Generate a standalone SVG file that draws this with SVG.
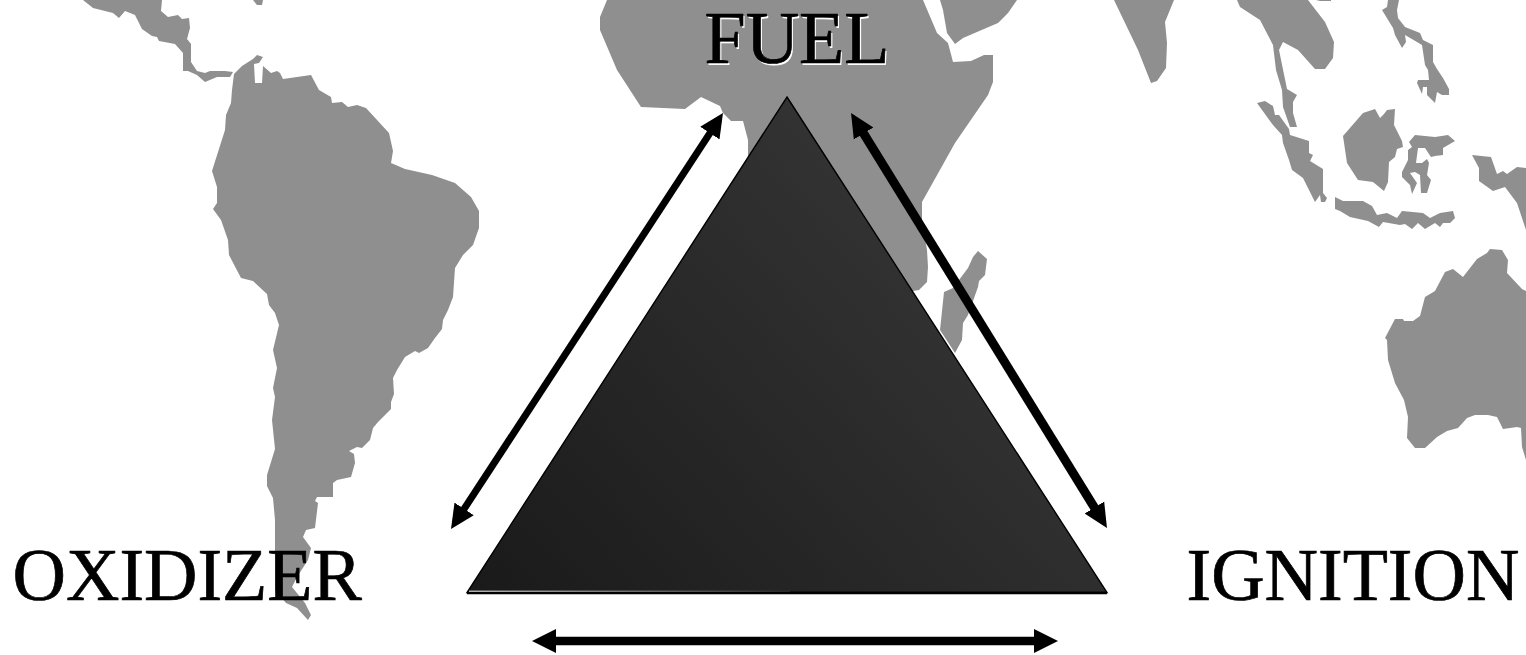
<svg xmlns="http://www.w3.org/2000/svg" width="1526" height="655" viewBox="0 0 1526 655">
<style>
.land{fill:#8f8f8f;stroke:none}
.lbl{font-family:"Liberation Serif","Times New Roman",serif;font-size:74px;fill:#000;stroke:#000;stroke-width:.7px}
.conn{fill:none;stroke:#000}
</style>
<defs>
<linearGradient id="tri" gradientUnits="userSpaceOnUse" x1="500" y1="620" x2="960" y2="200">
<stop offset="0" stop-color="#1a1a1a"/><stop offset="1" stop-color="#353535"/>
</linearGradient>
<linearGradient id="edge" gradientUnits="userSpaceOnUse" x1="467" y1="0" x2="790" y2="0">
<stop offset="0" stop-color="#fff"/><stop offset="1" stop-color="#333"/>
</linearGradient>
<marker id="head" markerUnits="userSpaceOnUse" markerWidth="24" markerHeight="24" refX="1" refY="11.5" orient="auto-start-reverse" viewBox="0 0 24 23"><path d="M0,0L24,11.5L0,23Z" fill="#000"/></marker>
<marker id="headH" markerUnits="userSpaceOnUse" markerWidth="24" markerHeight="25" refX="1" refY="12" orient="auto-start-reverse" viewBox="0 0 24 24"><path d="M0,0L24,12L0,24Z" fill="#000"/></marker>
</defs>
<rect width="1526" height="655" fill="#fff"/>
<g id="map">
<path class="land" d="M83,0L93,8L113,13L119,18L125,11L135,15L142,29L152,36L157,37L159,41L175,44L183,53L183,71L188,71L197,75L205,82L217,77L230,77L233,72L225,71L210,71L205,73L197,71L191,62L191,44L187,39L190,28L189,18L182,19L178,15L168,17L161,11L162,0Z"/>
<path class="land" d="M253,0L257,5L262,5L263,0Z"/>
<path class="land" d="M234,74L232,90L231,103L226,115L225,130L212,171L217,187L217,203L213,209L221,220L228,240L229,255L241,278L253,281L267,294L269,305L275,313L279,325L273,350L277,368L273,388L275,397L272,420L275,449L267,475L267,486L273,498L275,520L275,590L286,603L297,608L308,620L311,615L305,603L292,587L297,577L308,560L311,548L303,537L306,530L315,528L318,503L315,501L317,497L333,497L333,483L337,480L351,477L355,463L354,454L349,451L357,447L362,448L370,440L373,428L378,422L391,409L391,402L394,394L393,378L397,370L405,357L415,351L419,353L428,348L435,338L442,329L443,320L448,310L453,297L455,268L463,255L473,245L479,228L479,211L471,197L455,183L432,175L405,169L391,163L393,151L389,133L366,108L357,105L348,107L342,102L332,103L331,97L319,90L311,75L283,79L280,73L277,71L271,73L263,66L262,83L255,83L254,64L259,63L263,57L257,55L253,59L242,66Z"/>
<path class="land" d="M607,0L600,17L600,30L617,70L641,107L685,109L701,97L720,106L723,113L731,121L743,121L748,140L748,157L760,300L913,291L919,290L927,282L928,267L927,250L922,220L922,202L955,143L988,95L993,82L993,55L984,55L971,61L953,62L948,43L937,33L923,0Z"/>
<path class="land" d="M940,0L943,10L947,33L955,44L963,38L998,23L1008,13L1017,0Z"/>
<path class="land" d="M1114,0L1138,50L1151,83L1157,81L1166,68L1167,43L1165,22L1174,0Z"/>
<path class="land" d="M978,251L987,259L985,275L979,281L978,287L968,315L963,323L962,340L955,353L940,330L944,292L953,288L968,268L973,257Z"/>
<path class="land" d="M1237,0L1240,7L1260,20L1273,45L1276,70L1282,90L1283,107L1290,127L1297,127L1293,113L1293,102L1297,95L1287,89L1279,50L1283,42L1298,50L1315,69L1325,69L1333,58L1334,42L1325,22L1308,0Z"/>
<path class="land" d="M1316,0L1320,1L1331,1L1331,0Z"/>
<path class="land" d="M1388,0L1387,7L1382,10L1393,28L1395,35L1402,48L1406,42L1405,35L1417,42L1422,45L1425,65L1428,70L1429,80L1418,80L1417,83L1422,94L1423,87L1427,87L1427,95L1435,103L1437,92L1442,95L1449,95L1449,89L1443,78L1437,69L1433,62L1433,45L1423,40L1420,33L1405,27L1398,18L1397,10L1399,0Z"/>
<path class="land" d="M1257,103L1265,101L1273,106L1275,115L1279,115L1289,129L1290,135L1309,141L1309,153L1313,155L1310,161L1323,169L1323,193L1327,198L1325,202L1321,202L1320,195L1315,202L1308,188L1303,178L1292,170L1289,160L1283,143L1282,135L1273,125Z"/>
<path class="land" d="M1375,109L1380,118L1384,114L1387,110L1395,109L1394,125L1402,141L1403,147L1397,149L1395,157L1389,162L1388,182L1384,191L1373,182L1358,180L1347,163L1343,136L1363,113Z"/>
<path class="land" d="M1415,135L1435,137L1448,135L1455,141L1443,148L1443,155L1435,156L1431,157L1425,148L1418,148L1416,163L1422,163L1427,159L1429,163L1427,175L1431,180L1427,193L1421,193L1420,175L1415,172L1410,173L1417,183L1412,194L1410,185L1402,177L1402,172L1408,160L1408,150L1412,147L1409,142Z"/>
<path class="land" d="M1335,197L1343,201L1363,201L1372,206L1377,215L1387,213L1397,218L1402,211L1423,213L1430,218L1440,213L1453,211L1455,218L1450,223L1443,223L1440,227L1435,223L1425,229L1418,223L1412,229L1405,224L1400,225L1383,222L1379,227L1368,221L1350,217L1340,211L1335,209Z"/>
<path class="land" d="M1472,155L1491,157L1497,174L1503,171L1507,174L1517,167L1526,168L1526,230L1525,227L1517,203L1505,187L1493,191L1479,181L1479,168Z"/>
<path class="land" d="M1385,338L1395,319L1403,319L1404,321L1413,321L1420,316L1425,297L1435,291L1445,272L1453,269L1463,277L1477,259L1487,253L1490,249L1502,250L1508,260L1507,273L1522,289L1526,291L1526,460L1522,447L1521,428L1517,427L1503,429L1497,417L1488,415L1475,415L1467,418L1458,428L1447,431L1437,437L1425,448L1415,448L1407,438L1408,417L1404,400L1395,383L1388,360L1387,340Z"/>
</g>
<g id="node-triangle">
<path d="M787,97L1107,592.5H467Z" fill="url(#tri)" stroke="#000" stroke-width="1.4"/>
<path d="M467,593H1107" stroke="#000" stroke-width="2.5" fill="none"/>
<path d="M469,591.2H790" stroke="url(#edge)" stroke-width="1" fill="none"/>
</g>
<g id="connectors">
<line class="conn" stroke-width="7" x1="710.4" y1="132.3" x2="463.6" y2="509.7" marker-start="url(#head)" marker-end="url(#head)"/>
<line class="conn" stroke-width="9" x1="863.1" y1="132.6" x2="1094.9" y2="508.4" marker-start="url(#head)" marker-end="url(#head)"/>
<line class="conn" stroke-width="8.5" x1="555" y1="641" x2="1035" y2="641" marker-start="url(#headH)" marker-end="url(#headH)"/>
</g>
<g id="node-fuel">
<text class="lbl" x="706" y="64.5" style="fill:#fff;stroke:none">FUEL</text>
<text class="lbl" x="704.5" y="63">FUEL</text>
</g>
<g id="node-oxidizer"><text class="lbl" x="12.5" y="600">OXIDIZER</text></g>
<g id="node-ignition"><text class="lbl" x="1186.5" y="600">IGNITION</text></g>
</svg>
